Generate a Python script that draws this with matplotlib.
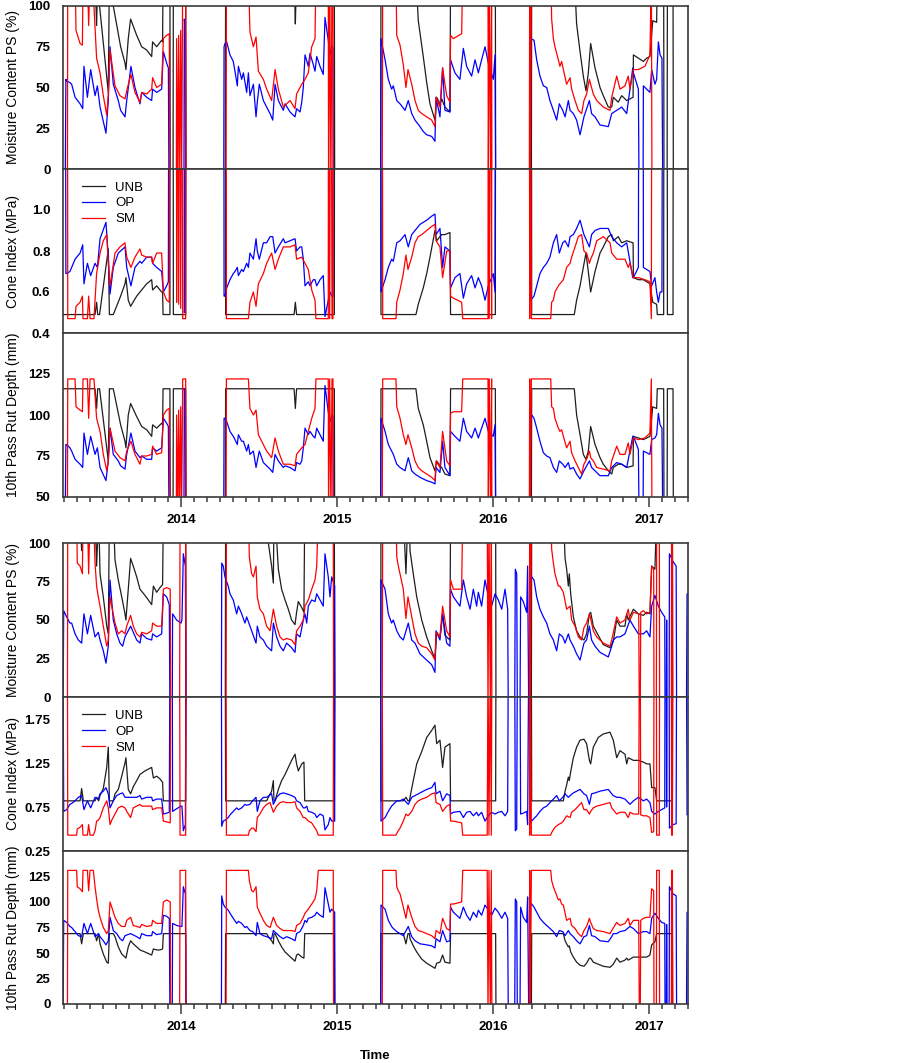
import numpy as np
import matplotlib
matplotlib.use('Agg')
import matplotlib.pyplot as plt
from matplotlib.ticker import MultipleLocator

nan = np.nan
GAP = (nan, nan, nan, nan)

# rows: (decimal year, moisture content PS %, cone index MPa, 10th pass rut depth mm)
# values above/below the axis limits are off-scale readings (saturated / missing)

# ---------------- upper set ----------------
top_unb = [
    (2013.244, 120, 0.49, 116), (2013.449, 120, 0.49, 116), (2013.459, 88, 0.55, 104),
    (2013.466, 120, 0.49, 116), (2013.478, 100, 0.49, 116), (2013.534, 47, 0.81, 72),
    (2013.541, 120, 0.49, 116), (2013.566, 100, 0.49, 116), (2013.613, 75, 0.58, 94),
    (2013.641, 65, 0.64, 84), (2013.647, 61, 0.67, 80), (2013.662, 80, 0.56, 100),
    (2013.677, 92, 0.53, 107), (2013.716, 82, 0.58, 99), (2013.748, 75, 0.61, 93),
    (2013.780, 73, 0.64, 91), (2013.812, 69, 0.66, 87), (2013.818, 78, 0.61, 94),
    (2013.844, 75, 0.63, 92), (2013.876, 79, 0.6, 95), (2013.882, 78, 0.6, 94),
    (2013.885, 120, 0.49, 116), (2013.929, 120, 0.49, 116), (2013.931, -10, 2.5, 40),
    (2013.949, -10, 2.5, 40), (2013.951, 120, 0.49, 116), (2014.030, 120, 0.49, 116),
    (2014.032, -10, 2.5, 40), GAP,
    (2014.284, -10, 2.5, 40), (2014.286, 120, 0.49, 116), (2014.725, 120, 0.49, 116),
    (2014.733, 89, 0.55, 104), (2014.741, 120, 0.49, 116), (2014.983, 120, 0.49, 116),
    (2014.985, -10, 2.5, 40), GAP,
    (2015.280, -10, 2.5, 40), (2015.282, 120, 0.49, 116), (2015.506, 120, 0.49, 116),
    (2015.521, 91, 0.54, 104), (2015.553, 69, 0.62, 94), (2015.575, 53, 0.69, 84),
    (2015.596, 40, 0.77, 74), (2015.628, 30, 0.9, 66), (2015.639, 44, 0.85, 72),
    (2015.660, 40, 0.87, 69), (2015.671, 43, 0.88, 68), (2015.692, 38, 0.88, 64),
    (2015.724, 35, 0.89, 63), (2015.728, 120, 0.49, 116), (2016.015, 120, 0.49, 116),
    (2016.017, -10, 2.5, 40), GAP,
    (2016.246, -10, 2.5, 40), (2016.248, 120, 0.49, 116), (2016.521, 120, 0.49, 116),
    (2016.536, 89, 0.56, 100), (2016.558, 72, 0.63, 88), (2016.579, 57, 0.72, 76),
    (2016.596, 48, 0.79, 73), (2016.611, 59, 0.7, 78), (2016.626, 77, 0.6, 93),
    (2016.654, 62, 0.7, 82), (2016.686, 50, 0.79, 74), (2016.707, 45, 0.82, 70),
    (2016.739, 38, 0.87, 66), (2016.761, 38, 0.88, 64), (2016.771, 44, 0.85, 68),
    (2016.803, 41, 0.87, 70), (2016.825, 45, 0.84, 70), (2016.857, 42, 0.85, 68),
    (2016.898, 44, 0.84, 69), (2016.900, 70, 0.67, 87), (2016.932, 68, 0.66, 86),
    (2016.964, 66, 0.66, 85), (2016.985, 68, 0.65, 86), (2017.006, 69, 0.64, 87),
    (2017.024, 91, 0.55, 105), (2017.049, 90, 0.54, 104), (2017.053, 120, 0.49, 116),
    (2017.094, 120, 0.49, 116), (2017.096, -10, 2.5, 40), (2017.116, -10, 2.5, 40),
    (2017.118, 120, 0.49, 116), (2017.154, 120, 0.49, 116), (2017.156, -10, 2.5, 40),
]

top_op = [
    (2013.258, -10, 2.5, 40), (2013.262, 55, 0.69, 82), (2013.267, 54, 0.69, 82),
    (2013.288, 53, 0.7, 80), (2013.299, 52, 0.72, 78), (2013.321, 44, 0.76, 73),
    (2013.353, 40, 0.79, 70), (2013.370, 37, 0.83, 68), (2013.378, 63, 0.64, 89),
    (2013.400, 44, 0.74, 76), (2013.421, 61, 0.68, 87), (2013.449, 45, 0.74, 76),
    (2013.464, 51, 0.72, 80), (2013.481, 38, 0.86, 68), (2013.519, 22, 0.94, 60),
    (2013.534, 42, 0.77, 72), (2013.545, 75, 0.59, 92), (2013.566, 52, 0.72, 76),
    (2013.598, 42, 0.79, 72), (2013.613, 36, 0.8, 69), (2013.641, 32, 0.82, 67),
    (2013.652, 42, 0.72, 76), (2013.679, 63, 0.63, 89), (2013.705, 50, 0.72, 78),
    (2013.737, 40, 0.75, 74), (2013.748, 47, 0.74, 75), (2013.780, 44, 0.77, 73),
    (2013.812, 42, 0.77, 73), (2013.818, 49, 0.74, 80), (2013.844, 47, 0.72, 78),
    (2013.876, 49, 0.7, 80), (2013.887, 72, 0.6, 98), (2013.908, 65, 0.63, 95),
    (2013.919, 62, 0.65, 93), (2013.923, -10, 2.5, 40), GAP,
    (2014.019, -10, 2.5, 40), (2014.021, 92, 0.5, 116), (2014.028, 88, 0.52, 113),
    (2014.030, -10, 2.5, 40), GAP,
    (2014.274, -10, 2.5, 40), (2014.276, 75, 0.58, 98), (2014.282, 77, 0.58, 98),
    (2014.293, 78, 0.62, 96), (2014.314, 70, 0.66, 90), (2014.335, 66, 0.69, 87),
    (2014.346, 60, 0.7, 85), (2014.361, 51, 0.72, 82), (2014.368, 63, 0.68, 88),
    (2014.389, 55, 0.71, 84), (2014.400, 59, 0.7, 84), (2014.421, 47, 0.74, 78),
    (2014.432, 59, 0.72, 82), (2014.442, 45, 0.79, 76), (2014.464, 52, 0.76, 78),
    (2014.481, 32, 0.86, 68), (2014.489, 41, 0.8, 72), (2014.502, 52, 0.76, 78),
    (2014.528, 42, 0.84, 71), (2014.549, 38, 0.84, 69), (2014.571, 34, 0.87, 67),
    (2014.588, 30, 0.87, 65), (2014.603, 52, 0.79, 76), (2014.624, 42, 0.82, 72),
    (2014.656, 36, 0.86, 68), (2014.667, 40, 0.84, 69), (2014.699, 35, 0.85, 68),
    (2014.731, 32, 0.86, 66), (2014.741, 37, 0.8, 71), (2014.763, 35, 0.82, 70),
    (2014.774, 41, 0.82, 72), (2014.784, 50, 0.76, 80), (2014.795, 70, 0.63, 92),
    (2014.816, 63, 0.65, 88), (2014.827, 71, 0.63, 90), (2014.848, 64, 0.66, 87),
    (2014.859, 60, 0.66, 86), (2014.870, 69, 0.63, 92), (2014.891, 63, 0.66, 88),
    (2014.912, 58, 0.68, 84), (2014.923, 93, 0.48, 118), (2014.944, 79, 0.56, 102),
    (2014.955, 70, 0.6, 96), (2014.966, 76, 0.58, 100), (2014.974, 74, 0.58, 99),
    (2014.976, -10, 2.5, 40), GAP,
    (2015.280, -10, 2.5, 40), (2015.282, 80, 0.6, 98), (2015.308, 67, 0.66, 90),
    (2015.329, 55, 0.72, 82), (2015.350, 49, 0.76, 78), (2015.361, 51, 0.75, 76),
    (2015.383, 42, 0.84, 70), (2015.404, 40, 0.85, 68), (2015.436, 36, 0.88, 66),
    (2015.457, 42, 0.82, 74), (2015.479, 34, 0.88, 66), (2015.500, 30, 0.9, 64),
    (2015.532, 26, 0.93, 62), (2015.553, 23, 0.94, 61), (2015.575, 21, 0.95, 60),
    (2015.607, 20, 0.97, 59), (2015.628, 17, 0.98, 58), (2015.635, 44, 0.88, 68),
    (2015.660, 32, 0.91, 65), (2015.677, 62, 0.72, 84), (2015.692, 36, 0.82, 68),
    (2015.724, 35, 0.8, 63), (2015.728, 67, 0.62, 90), (2015.756, 59, 0.67, 87),
    (2015.788, 55, 0.69, 84), (2015.810, 74, 0.57, 98), (2015.831, 63, 0.64, 90),
    (2015.863, 57, 0.68, 86), (2015.885, 67, 0.62, 92), (2015.906, 59, 0.67, 86),
    (2015.927, 67, 0.63, 92), (2015.949, 75, 0.56, 98), (2015.970, 65, 0.63, 90),
    (2016.002, 55, 0.69, 87), (2016.013, 70, 0.6, 94), (2016.017, -10, 2.5, 40), GAP,
    (2016.237, -10, 2.5, 40), (2016.241, 80, 0.56, 101), (2016.263, 79, 0.58, 98),
    (2016.280, 67, 0.63, 92), (2016.301, 57, 0.69, 84), (2016.323, 51, 0.72, 77),
    (2016.344, 50, 0.74, 75), (2016.365, 42, 0.77, 74), (2016.387, 36, 0.84, 68),
    (2016.408, 30, 0.88, 65), (2016.425, 40, 0.79, 72), (2016.447, 36, 0.84, 70),
    (2016.462, 32, 0.85, 68), (2016.483, 42, 0.82, 71), (2016.494, 36, 0.87, 67),
    (2016.515, 34, 0.88, 68), (2016.536, 30, 0.91, 64), (2016.558, 21, 0.95, 61),
    (2016.583, 32, 0.88, 66), (2016.618, 42, 0.82, 72), (2016.632, 34, 0.88, 68),
    (2016.654, 32, 0.9, 66), (2016.686, 27, 0.91, 63), (2016.739, 26, 0.91, 63),
    (2016.761, 34, 0.87, 68), (2016.793, 36, 0.84, 71), (2016.825, 38, 0.82, 70),
    (2016.857, 34, 0.84, 68), (2016.896, 62, 0.67, 87), (2016.900, 59, 0.67, 87),
    (2016.932, 49, 0.72, 79), (2016.936, -10, 2.5, 40), (2016.962, -10, 2.5, 40),
    (2016.964, 51, 0.72, 78), (2017.006, 47, 0.7, 76), (2017.017, 61, 0.63, 85),
    (2017.038, 52, 0.67, 86), (2017.049, 55, 0.6, 88), (2017.060, 78, 0.55, 101),
    (2017.071, 70, 0.6, 94), (2017.083, 68, 0.6, 92), (2017.088, -10, 2.5, 40),
]

top_sm = [
    (2013.272, -10, 2.5, 40), (2013.274, 120, 0.47, 122), (2013.321, 120, 0.47, 122),
    (2013.327, 85, 0.53, 105), (2013.353, 77, 0.55, 103), (2013.368, 76, 0.58, 102),
    (2013.372, 120, 0.47, 122), (2013.400, 120, 0.47, 122), (2013.408, 88, 0.58, 98),
    (2013.417, 120, 0.47, 122), (2013.438, 120, 0.47, 122), (2013.442, 100, 0.47, 122),
    (2013.459, 68, 0.69, 98), (2013.481, 59, 0.79, 90), (2013.502, 45, 0.85, 76),
    (2013.524, 33, 0.88, 66), (2013.534, 46, 0.74, 72), (2013.545, 73, 0.63, 92),
    (2013.577, 51, 0.79, 78), (2013.609, 45, 0.82, 74), (2013.641, 43, 0.84, 72),
    (2013.652, 48, 0.77, 78), (2013.679, 58, 0.72, 84), (2013.705, 47, 0.77, 76),
    (2013.737, 41, 0.81, 70), (2013.748, 47, 0.78, 75), (2013.780, 46, 0.77, 75),
    (2013.812, 49, 0.77, 76), (2013.818, 56, 0.74, 81), (2013.844, 50, 0.79, 76),
    (2013.876, 52, 0.79, 77), (2013.887, 80, 0.6, 100), (2013.908, 82, 0.56, 103),
    (2013.925, 83, 0.55, 104), (2013.929, -10, 2.5, 40), (2013.970, -10, 2.5, 40),
    (2013.972, 80, 0.55, 100), (2013.979, -10, 2.5, 40), (2013.985, 82, 0.54, 103),
    (2013.991, -10, 2.5, 40), (2013.998, 85, 0.52, 105), (2014.004, -10, 2.5, 40),
    (2014.011, 120, 0.47, 122), (2014.030, 120, 0.47, 122), (2014.032, -10, 2.5, 40), GAP,
    (2014.289, -10, 2.5, 40), (2014.291, 120, 0.47, 122), (2014.432, 120, 0.47, 122),
    (2014.442, 84, 0.55, 104), (2014.464, 75, 0.6, 100), (2014.481, 81, 0.53, 103),
    (2014.496, 60, 0.64, 88), (2014.528, 55, 0.69, 82), (2014.549, 49, 0.74, 78),
    (2014.581, 42, 0.79, 74), (2014.603, 61, 0.71, 86), (2014.624, 49, 0.76, 78),
    (2014.656, 38, 0.82, 70), (2014.699, 42, 0.82, 70), (2014.731, 37, 0.83, 69),
    (2014.741, 46, 0.76, 76), (2014.774, 52, 0.77, 80), (2014.795, 55, 0.74, 82),
    (2014.816, 59, 0.71, 90), (2014.838, 75, 0.61, 98), (2014.859, 80, 0.56, 104),
    (2014.865, 120, 0.47, 122), (2014.944, 120, 0.47, 122), (2014.946, -10, 2.5, 40),
    (2014.953, 120, 0.47, 122), (2014.961, -10, 2.5, 40), (2014.968, 120, 0.47, 122),
    (2014.974, 120, 0.47, 122), (2014.976, -10, 2.5, 40), GAP,
    (2015.290, -10, 2.5, 40), (2015.293, 120, 0.47, 122), (2015.378, 120, 0.47, 122),
    (2015.383, 82, 0.55, 105), (2015.404, 76, 0.61, 98), (2015.425, 64, 0.69, 88),
    (2015.442, 50, 0.78, 82), (2015.455, 61, 0.71, 88), (2015.479, 52, 0.77, 80),
    (2015.500, 42, 0.84, 72), (2015.521, 36, 0.87, 68), (2015.543, 34, 0.88, 66),
    (2015.575, 32, 0.9, 64), (2015.607, 30, 0.92, 62), (2015.628, 26, 0.93, 60),
    (2015.635, 44, 0.85, 72), (2015.660, 38, 0.82, 68), (2015.677, 62, 0.67, 90),
    (2015.703, 45, 0.8, 72), (2015.724, 41, 0.8, 69), (2015.728, 82, 0.58, 101),
    (2015.746, 80, 0.57, 102), (2015.799, 83, 0.55, 102), (2015.806, 120, 0.47, 122),
    (2015.968, 120, 0.47, 122), (2015.970, -10, 2.5, 40), (2015.976, 120, 0.47, 122),
    (2015.985, -10, 2.5, 40), (2015.991, 120, 0.47, 122), (2015.993, -10, 2.5, 40), GAP,
    (2016.233, -10, 2.5, 40), (2016.235, 120, 0.47, 122), (2016.239, -10, 2.5, 40),
    (2016.246, 120, 0.47, 122), (2016.370, 120, 0.47, 122), (2016.376, 92, 0.55, 105),
    (2016.387, 80, 0.56, 104), (2016.397, 75, 0.6, 98), (2016.419, 67, 0.63, 92),
    (2016.429, 63, 0.64, 90), (2016.440, 66, 0.65, 91), (2016.451, 61, 0.66, 87),
    (2016.472, 52, 0.72, 80), (2016.494, 56, 0.74, 84), (2016.504, 49, 0.77, 77),
    (2016.526, 42, 0.82, 72), (2016.547, 36, 0.87, 68), (2016.568, 34, 0.88, 64),
    (2016.583, 42, 0.8, 70), (2016.600, 46, 0.79, 73), (2016.618, 55, 0.74, 78),
    (2016.626, 52, 0.76, 74), (2016.643, 46, 0.79, 72), (2016.665, 42, 0.85, 68),
    (2016.707, 38, 0.87, 67), (2016.750, 36, 0.84, 66), (2016.761, 44, 0.79, 72),
    (2016.793, 57, 0.76, 81), (2016.814, 49, 0.76, 76), (2016.846, 51, 0.76, 76),
    (2016.867, 57, 0.72, 83), (2016.878, 49, 0.74, 76), (2016.900, 61, 0.67, 86),
    (2016.932, 61, 0.67, 85), (2016.974, 63, 0.66, 86), (2017.006, 70, 0.65, 89),
    (2017.015, 120, 0.47, 122), (2017.019, -10, 2.5, 40),
]

# ---------------- lower set ----------------
bot_unb = [
    (2013.244, 120, 0.82, 69), (2013.353, 120, 0.82, 69), (2013.363, 95, 0.96, 59),
    (2013.374, 120, 0.82, 69), (2013.449, 120, 0.82, 69), (2013.459, 85, 0.86, 62),
    (2013.472, 120, 0.82, 69), (2013.481, 80, 0.88, 59), (2013.502, 65, 0.96, 49),
    (2013.524, 46, 1.2, 41), (2013.534, 41, 1.43, 40), (2013.541, 120, 0.82, 69),
    (2013.566, 120, 0.82, 69), (2013.577, 89, 0.9, 66), (2013.598, 76, 0.95, 56),
    (2013.620, 65, 1.1, 49), (2013.641, 54, 1.25, 46), (2013.647, 50, 1.31, 45),
    (2013.662, 70, 0.95, 56), (2013.677, 90, 0.9, 62), (2013.694, 85, 0.98, 59),
    (2013.716, 78, 1.05, 56), (2013.737, 70, 1.12, 53), (2013.769, 66, 1.16, 51),
    (2013.812, 60, 1.2, 48), (2013.823, 72, 1.08, 54), (2013.844, 68, 1.1, 53),
    (2013.865, 71, 1.07, 53), (2013.882, 73, 1.03, 54), (2013.887, 120, 0.82, 69),
    (2014.030, 120, 0.82, 69), (2014.032, -10, 2.5, -10), GAP,
    (2014.284, -10, 2.5, -10), (2014.286, 120, 0.82, 69), (2014.549, 120, 0.82, 69),
    (2014.560, 100, 0.86, 66), (2014.581, 85, 0.93, 62), (2014.592, 74, 1.05, 59),
    (2014.596, 120, 0.82, 69), (2014.603, 120, 0.82, 69), (2014.624, 83, 0.95, 62),
    (2014.645, 70, 1.05, 56), (2014.667, 63, 1.12, 51), (2014.688, 57, 1.2, 48),
    (2014.709, 50, 1.28, 45), (2014.731, 47, 1.35, 42), (2014.741, 55, 1.24, 48),
    (2014.752, 62, 1.16, 49), (2014.774, 58, 1.24, 46), (2014.788, 55, 1.26, 45),
    (2014.793, 120, 0.82, 69), (2014.983, 120, 0.82, 69), (2014.985, -10, 2.5, -10), GAP,
    (2015.280, -10, 2.5, -10), (2015.282, 120, 0.82, 69), (2015.425, 120, 0.82, 69),
    (2015.442, 80, 0.86, 59), (2015.455, 120, 0.82, 69), (2015.464, 120, 0.82, 69),
    (2015.468, 95, 0.86, 64), (2015.489, 80, 1.05, 57), (2015.511, 65, 1.24, 51),
    (2015.543, 50, 1.38, 44), (2015.575, 39, 1.54, 40), (2015.607, 30, 1.62, 37),
    (2015.628, 25, 1.68, 35), (2015.639, 42, 1.47, 40), (2015.660, 39, 1.51, 41),
    (2015.677, 54, 1.2, 48), (2015.692, 40, 1.43, 41), (2015.724, 37, 1.47, 40),
    (2015.728, 120, 0.82, 69), (2016.017, 120, 0.82, 69), (2016.019, -10, 2.5, -10), GAP,
    (2016.246, -10, 2.5, -10), (2016.248, 120, 0.82, 69), (2016.451, 120, 0.82, 69),
    (2016.462, 90, 0.93, 62), (2016.472, 83, 1.0, 59), (2016.483, 72, 1.09, 56),
    (2016.489, 80, 1.05, 57), (2016.498, 67, 1.15, 51), (2016.515, 52, 1.31, 46),
    (2016.536, 43, 1.43, 41), (2016.558, 39, 1.51, 38), (2016.583, 37, 1.52, 37),
    (2016.600, 41, 1.47, 40), (2016.618, 54, 1.28, 45), (2016.626, 55, 1.24, 45),
    (2016.643, 46, 1.43, 41), (2016.675, 40, 1.54, 39), (2016.707, 34, 1.58, 37),
    (2016.750, 32, 1.6, 36), (2016.771, 36, 1.51, 39), (2016.793, 50, 1.31, 45),
    (2016.814, 46, 1.39, 41), (2016.846, 46, 1.35, 43), (2016.857, 54, 1.24, 45),
    (2016.867, 50, 1.31, 43), (2016.900, 57, 1.28, 46), (2016.932, 54, 1.28, 46),
    (2016.964, 53, 1.26, 46), (2016.985, 55, 1.24, 46), (2017.006, 54, 1.24, 48),
    (2017.017, 85, 0.97, 58), (2017.038, 83, 0.97, 61), (2017.049, 120, 0.82, 69),
    (2017.150, 120, 0.82, 69), (2017.152, -10, 2.5, -10),
]

bot_op = [
    (2013.244, -10, 2.5, -10), (2013.248, 56, 0.7, 82), (2013.267, 52, 0.72, 80),
    (2013.288, 48, 0.78, 76), (2013.299, 48, 0.79, 75), (2013.321, 41, 0.82, 71),
    (2013.342, 37, 0.86, 67), (2013.363, 35, 0.88, 66), (2013.378, 54, 0.72, 79),
    (2013.400, 41, 0.82, 69), (2013.421, 53, 0.74, 79), (2013.449, 39, 0.86, 66),
    (2013.470, 42, 0.84, 69), (2013.481, 37, 0.9, 66), (2013.502, 30, 0.93, 62),
    (2013.519, 22, 0.97, 58), (2013.534, 33, 0.9, 62), (2013.545, 76, 0.74, 85),
    (2013.566, 50, 0.82, 72), (2013.588, 41, 0.88, 69), (2013.609, 35, 0.9, 64),
    (2013.626, 33, 0.91, 62), (2013.641, 39, 0.86, 67), (2013.677, 46, 0.86, 69),
    (2013.716, 37, 0.86, 66), (2013.737, 35, 0.88, 64), (2013.748, 41, 0.84, 69),
    (2013.780, 38, 0.86, 67), (2013.812, 37, 0.86, 67), (2013.818, 41, 0.82, 71),
    (2013.844, 39, 0.84, 68), (2013.876, 41, 0.84, 69), (2013.887, 67, 0.67, 87),
    (2013.908, 65, 0.68, 86), (2013.925, 60, 0.69, 84), (2013.929, -10, 2.5, -10),
    (2013.944, -10, 2.5, -10), (2013.946, 54, 0.7, 79), (2013.972, 50, 0.73, 77),
    (2014.000, 48, 0.76, 76), (2014.006, 50, 0.76, 76), (2014.015, 93, 0.48, 115),
    (2014.028, 85, 0.55, 108), (2014.032, -10, 2.5, -10), GAP,
    (2014.259, -10, 2.5, -10), (2014.261, 87, 0.53, 106), (2014.271, 85, 0.59, 98),
    (2014.282, 78, 0.6, 95), (2014.303, 72, 0.63, 92), (2014.314, 67, 0.66, 89),
    (2014.335, 63, 0.7, 84), (2014.357, 54, 0.74, 79), (2014.368, 59, 0.72, 81),
    (2014.389, 54, 0.74, 79), (2014.410, 48, 0.78, 75), (2014.421, 52, 0.77, 76),
    (2014.442, 46, 0.78, 72), (2014.459, 41, 0.82, 71), (2014.481, 35, 0.86, 67),
    (2014.489, 46, 0.7, 80), (2014.506, 39, 0.82, 69), (2014.528, 37, 0.86, 67),
    (2014.549, 33, 0.86, 66), (2014.581, 30, 0.9, 64), (2014.592, 48, 0.78, 72),
    (2014.613, 39, 0.86, 69), (2014.635, 33, 0.9, 66), (2014.656, 30, 0.91, 64),
    (2014.677, 35, 0.9, 66), (2014.709, 32, 0.88, 64), (2014.731, 29, 0.86, 62),
    (2014.741, 41, 0.82, 69), (2014.763, 39, 0.8, 71), (2014.784, 50, 0.74, 77),
    (2014.795, 54, 0.74, 82), (2014.806, 48, 0.76, 80), (2014.816, 59, 0.7, 84),
    (2014.838, 63, 0.69, 85), (2014.859, 62, 0.67, 87), (2014.870, 67, 0.63, 90),
    (2014.891, 63, 0.67, 87), (2014.912, 59, 0.65, 85), (2014.923, 93, 0.49, 114),
    (2014.944, 78, 0.55, 98), (2014.955, 65, 0.63, 90), (2014.966, 78, 0.59, 93),
    (2014.985, 72, 0.59, 90), (2014.987, -10, 2.5, -10), GAP,
    (2015.280, -10, 2.5, -10), (2015.282, 76, 0.59, 97), (2015.308, 70, 0.63, 93),
    (2015.329, 54, 0.7, 82), (2015.350, 48, 0.76, 76), (2015.361, 50, 0.78, 74),
    (2015.383, 43, 0.82, 71), (2015.404, 39, 0.82, 69), (2015.425, 37, 0.84, 67),
    (2015.457, 48, 0.78, 76), (2015.479, 37, 0.86, 66), (2015.500, 35, 0.88, 62),
    (2015.532, 28, 0.91, 59), (2015.575, 24, 0.95, 58), (2015.607, 21, 0.97, 57),
    (2015.628, 16, 1.03, 55), (2015.635, 43, 0.9, 64), (2015.660, 37, 0.93, 61),
    (2015.677, 54, 0.82, 72), (2015.703, 35, 0.9, 61), (2015.724, 33, 0.88, 62),
    (2015.728, 70, 0.67, 95), (2015.746, 65, 0.69, 90), (2015.788, 59, 0.7, 84),
    (2015.810, 76, 0.63, 95), (2015.831, 65, 0.69, 87), (2015.853, 57, 0.7, 82),
    (2015.874, 70, 0.65, 90), (2015.895, 59, 0.69, 85), (2015.906, 68, 0.65, 92),
    (2015.927, 59, 0.69, 87), (2015.949, 76, 0.59, 97), (2015.970, 65, 0.65, 92),
    (2015.991, 59, 0.69, 87), (2016.013, 67, 0.67, 94), (2016.034, 63, 0.69, 90),
    (2016.056, 57, 0.7, 84), (2016.077, 70, 0.65, 90), (2016.094, 57, 0.7, 84),
    (2016.098, -10, 2.5, -10), (2016.139, -10, 2.5, -10), (2016.143, 83, 0.48, 103),
    (2016.152, 80, 0.5, 100), (2016.156, -10, 2.5, -10), (2016.173, -10, 2.5, -10),
    (2016.177, 65, 0.67, 95), (2016.194, 62, 0.68, 85), (2016.216, 55, 0.7, 80),
    (2016.222, 85, 0.55, 105), (2016.229, -10, 2.5, -10), GAP,
    (2016.237, -10, 2.5, -10), (2016.241, 80, 0.57, 99), (2016.248, 78, 0.59, 98),
    (2016.263, 76, 0.62, 95), (2016.280, 65, 0.65, 90), (2016.301, 57, 0.7, 84),
    (2016.323, 52, 0.74, 80), (2016.344, 48, 0.76, 77), (2016.365, 41, 0.8, 74),
    (2016.387, 37, 0.84, 71), (2016.408, 30, 0.88, 66), (2016.425, 41, 0.82, 72),
    (2016.447, 39, 0.86, 71), (2016.462, 35, 0.9, 67), (2016.483, 41, 0.86, 72),
    (2016.494, 37, 0.88, 69), (2016.515, 33, 0.91, 66), (2016.536, 28, 0.93, 62),
    (2016.558, 24, 0.95, 59), (2016.583, 35, 0.9, 66), (2016.600, 37, 0.88, 67),
    (2016.618, 46, 0.78, 77), (2016.632, 37, 0.9, 67), (2016.654, 33, 0.91, 66),
    (2016.686, 29, 0.93, 62), (2016.739, 26, 0.95, 61), (2016.761, 33, 0.9, 66),
    (2016.771, 37, 0.88, 69), (2016.793, 39, 0.86, 69), (2016.814, 39, 0.86, 71),
    (2016.846, 41, 0.84, 72), (2016.878, 50, 0.78, 76), (2016.900, 46, 0.82, 74),
    (2016.932, 41, 0.86, 69), (2016.964, 41, 0.82, 71), (2016.985, 43, 0.84, 71),
    (2017.006, 39, 0.8, 69), (2017.017, 59, 0.7, 84), (2017.038, 66, 0.67, 89),
    (2017.060, 59, 0.7, 84), (2017.081, 55, 0.72, 80), (2017.101, 52, 0.74, 79),
    (2017.103, -10, 2.5, -10), (2017.111, -10, 2.5, -10), (2017.113, 50, 0.75, 78),
    (2017.116, -10, 2.5, -10), (2017.129, -10, 2.5, -10), (2017.131, 93, 0.51, 115),
    (2017.154, 88, 0.55, 108), (2017.174, 85, 0.56, 106), (2017.177, -10, 2.5, -10), GAP,
    (2017.240, -10, 2.5, -10), (2017.244, 67, 0.66, 90), (2017.260, 65, 0.67, 89),
]

bot_sm = [
    (2013.272, -10, 2.5, -10), (2013.274, 120, 0.43, 131), (2013.331, 120, 0.43, 131),
    (2013.335, 87, 0.5, 115), (2013.353, 85, 0.52, 113), (2013.368, 80, 0.55, 110),
    (2013.372, 120, 0.43, 131), (2013.400, 120, 0.43, 131), (2013.408, 80, 0.55, 111),
    (2013.417, 120, 0.43, 131), (2013.438, 120, 0.43, 131), (2013.449, 87, 0.48, 115),
    (2013.459, 72, 0.59, 103), (2013.470, 65, 0.6, 92), (2013.481, 59, 0.63, 85),
    (2013.502, 46, 0.74, 75), (2013.524, 33, 0.82, 69), (2013.534, 37, 0.74, 72),
    (2013.545, 65, 0.55, 100), (2013.556, 59, 0.6, 95), (2013.577, 48, 0.67, 85),
    (2013.598, 41, 0.74, 79), (2013.620, 43, 0.76, 76), (2013.641, 41, 0.74, 76),
    (2013.652, 46, 0.7, 82), (2013.677, 53, 0.63, 85), (2013.694, 46, 0.74, 77),
    (2013.716, 41, 0.76, 76), (2013.737, 39, 0.78, 75), (2013.748, 42, 0.76, 78),
    (2013.780, 41, 0.76, 76), (2013.812, 43, 0.76, 77), (2013.818, 48, 0.72, 82),
    (2013.844, 46, 0.74, 79), (2013.876, 46, 0.74, 79), (2013.887, 70, 0.59, 100),
    (2013.908, 71, 0.58, 102), (2013.931, 70, 0.57, 100), (2013.934, -10, 2.5, -10),
    (2013.991, -10, 2.5, -10), (2013.994, 120, 0.43, 131), (2014.030, 120, 0.43, 131),
    (2014.032, -10, 2.5, -10), GAP,
    (2014.289, -10, 2.5, -10), (2014.291, 120, 0.43, 131), (2014.432, 120, 0.43, 131),
    (2014.438, 91, 0.48, 121), (2014.453, 80, 0.51, 111), (2014.464, 78, 0.51, 110),
    (2014.481, 85, 0.47, 115), (2014.489, 65, 0.63, 95), (2014.506, 57, 0.67, 89),
    (2014.528, 54, 0.74, 82), (2014.549, 46, 0.78, 77), (2014.571, 43, 0.8, 75),
    (2014.592, 57, 0.69, 85), (2014.613, 46, 0.76, 77), (2014.635, 39, 0.8, 74),
    (2014.656, 37, 0.81, 72), (2014.677, 38, 0.8, 72), (2014.709, 37, 0.8, 72),
    (2014.731, 34, 0.81, 71), (2014.741, 43, 0.74, 77), (2014.763, 46, 0.7, 79),
    (2014.784, 50, 0.63, 85), (2014.795, 59, 0.63, 89), (2014.816, 63, 0.59, 93),
    (2014.838, 70, 0.57, 98), (2014.859, 76, 0.51, 103), (2014.870, 85, 0.48, 111),
    (2014.880, 120, 0.43, 131), (2014.976, 120, 0.43, 131), (2014.978, -10, 2.5, -10), GAP,
    (2015.290, -10, 2.5, -10), (2015.293, 120, 0.43, 131), (2015.378, 120, 0.43, 131),
    (2015.383, 91, 0.45, 115), (2015.393, 85, 0.48, 111), (2015.404, 80, 0.51, 108),
    (2015.425, 70, 0.59, 95), (2015.442, 51, 0.67, 84), (2015.455, 65, 0.65, 97),
    (2015.479, 52, 0.7, 85), (2015.500, 41, 0.78, 76), (2015.521, 35, 0.82, 72),
    (2015.543, 33, 0.84, 71), (2015.575, 32, 0.86, 69), (2015.607, 28, 0.9, 67),
    (2015.628, 24, 0.91, 64), (2015.635, 42, 0.8, 72), (2015.660, 39, 0.78, 69),
    (2015.677, 59, 0.7, 84), (2015.703, 43, 0.76, 74), (2015.724, 39, 0.78, 72),
    (2015.728, 76, 0.59, 98), (2015.746, 70, 0.59, 98), (2015.799, 70, 0.57, 100),
    (2015.806, 120, 0.43, 131), (2015.963, 120, 0.43, 131), (2015.968, -10, 2.5, -10),
    (2015.974, 120, 0.43, 131), (2015.983, -10, 2.5, -10), (2015.989, 120, 0.43, 131),
    (2015.993, -10, 2.5, -10), GAP,
    (2016.233, -10, 2.5, -10), (2016.235, 120, 0.43, 131), (2016.239, -10, 2.5, -10),
    (2016.246, 120, 0.43, 131), (2016.370, 120, 0.43, 131), (2016.376, 96, 0.46, 121),
    (2016.387, 87, 0.49, 115), (2016.397, 80, 0.52, 111), (2016.419, 72, 0.55, 102),
    (2016.429, 72, 0.56, 103), (2016.440, 70, 0.57, 98), (2016.451, 68, 0.59, 97),
    (2016.472, 57, 0.65, 82), (2016.494, 59, 0.63, 84), (2016.504, 50, 0.69, 77),
    (2016.526, 46, 0.72, 74), (2016.547, 39, 0.76, 69), (2016.568, 37, 0.8, 66),
    (2016.583, 45, 0.72, 72), (2016.600, 48, 0.72, 76), (2016.618, 54, 0.67, 84),
    (2016.626, 51, 0.7, 80), (2016.643, 43, 0.74, 74), (2016.665, 39, 0.76, 72),
    (2016.707, 35, 0.78, 71), (2016.750, 33, 0.8, 69), (2016.761, 37, 0.74, 72),
    (2016.793, 52, 0.67, 80), (2016.814, 48, 0.69, 77), (2016.846, 50, 0.69, 79),
    (2016.867, 57, 0.63, 84), (2016.878, 50, 0.69, 77), (2016.900, 55, 0.67, 82),
    (2016.934, 54, 0.67, 82), (2016.938, -10, 2.5, -10), (2016.944, -10, 2.5, -10),
    (2016.947, 55, 0.66, 82), (2016.964, 56, 0.65, 84), (2016.985, 54, 0.65, 85),
    (2017.006, 55, 0.63, 85), (2017.017, 85, 0.46, 113), (2017.030, 83, 0.47, 111),
    (2017.032, -10, 2.5, -10), (2017.047, -10, 2.5, -10), (2017.049, 120, 0.43, 131),
    (2017.066, 120, 0.43, 131), (2017.068, -10, 2.5, -10), (2017.143, -10, 2.5, -10),
    (2017.145, 120, 0.43, 131), (2017.150, 120, 0.43, 131), (2017.152, -10, 2.5, -10),
]

soil_names = ['UNB', 'OP', 'SM']
soil_colors = ['#1e1e1e', '#0000ff', '#ff0000']
year_ticks = [2014, 2015, 2016, 2017]

W, H = 903, 1063
fig = plt.figure(figsize=(W / 100, H / 100), dpi=100)
plt.rcParams['font.family'] = ['Liberation Sans', 'DejaVu Sans']

x0, x1 = 63, 688
spine_col = '#3a3a3a'


def px_axes(top, bottom):
    return fig.add_axes([x0 / W, 1 - bottom / H, (x1 - x0) / W, (bottom - top) / H])


def draw_group(series, edges, limits, ticks, ticklabels, edge_ticks, legend_y):
    ylabels = ['Moisture Content PS (%)', 'Cone Index (MPa)', '10th Pass Rut Depth (mm)']
    axes = []
    for k in range(3):
        ax = px_axes(edges[k], edges[k + 1])
        lines = []
        for rows, name, col in zip(series, soil_names, soil_colors):
            arr = np.array(rows, dtype=float)
            ln, = ax.plot(arr[:, 0], arr[:, k + 1], color=col, lw=0.9, label=name)
            lines.append(ln)
        ax.set_xlim(2013.2436, 2017.25)
        ax.set_ylim(*limits[k])
        ax.set_yticks(ticks[k])
        ax.set_yticklabels(ticklabels[k])
        ax.set_yticks(edge_ticks[k], minor=True)
        ax.tick_params(axis='y', which='major', length=0, pad=9, labelsize=9.5)
        ax.tick_params(axis='y', which='minor', length=6, width=1.1, color=spine_col,
                       direction='out')
        for lab in ax.get_yticklabels():
            lab.set_fontweight('bold')
        for sp in ax.spines.values():
            sp.set_color(spine_col)
            sp.set_linewidth(1.2)
        ax.xaxis.set_major_locator(MultipleLocator(1))
        ax.xaxis.set_minor_locator(MultipleLocator(1 / 12))
        if k < 2:
            ax.tick_params(axis='x', which='both', bottom=False, labelbottom=False)
        else:
            ax.set_xticks(year_ticks)
            ax.set_xticklabels([str(y) for y in year_ticks])
            ax.tick_params(axis='x', which='major', length=7.5, width=1.1, color=spine_col,
                           direction='out', pad=5, labelsize=9.5)
            ax.tick_params(axis='x', which='minor', length=3.8, width=1.1, color=spine_col,
                           direction='out')
            for lab in ax.get_xticklabels():
                lab.set_fontweight('bold')
        fig.text(13 / W, 1 - (edges[k] + edges[k + 1]) / 2 / H, ylabels[k], rotation=90,
                 ha='center', va='center', fontsize=10)
        if k == 1:
            ax.legend(lines, soil_names, loc='upper left', bbox_to_anchor=(0.03, legend_y),
                      frameon=False, borderpad=0, borderaxespad=0, handlelength=1.8,
                      handletextpad=0.75, labelspacing=0.28, fontsize=9.5)
        axes.append(ax)
    return axes


draw_group((top_unb, top_op, top_sm), [6, 169, 333, 497],
           [(0, 100), (0.4, 1.2), (50, 150)],
           [[0, 25, 50, 75, 100], [0.4, 0.6, 0.8, 1.0], [50, 75, 100, 125]],
           [['0', '25', '50', '75', '100'], ['0.4', '0.6', '0.8', '1.0'],
            ['50', '75', '100', '125']],
           [[0, 100], [0.4], [50]], 0.925)

draw_group((bot_unb, bot_op, bot_sm), [543, 697, 851, 1004],
           [(0, 100), (0.25, 2.0), (0, 150)],
           [[0, 25, 50, 75, 100], [0.25, 0.75, 1.25, 1.75], [0, 25, 50, 75, 100, 125]],
           [['0', '25', '50', '75', '100'], ['0.25', '0.75', '1.25', '1.75'],
            ['0', '25', '50', '75', '100', '125']],
           [[0, 100], [0.25], [0]], 0.918)

fig.text(375 / W, 1 - 1056 / H, 'Time', ha='center', va='center', fontsize=9.5,
         fontweight='bold')

fig.savefig('out.png', dpi=100)
